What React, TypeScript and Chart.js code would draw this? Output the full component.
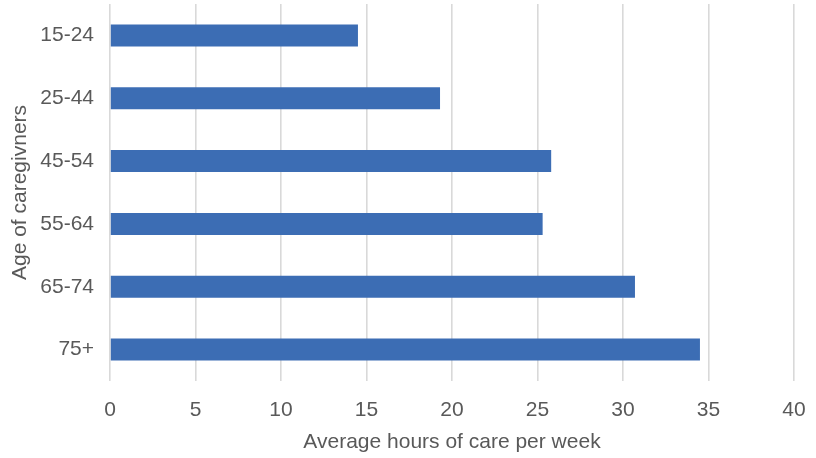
import React, { useEffect, useRef } from "react";
import { Chart, registerables } from "chart.js";

Chart.register(...registerables);

const ageGroups = ["15-24", "25-44", "45-54", "55-64", "65-74", "75+"];
const avgHours = [14.5, 19.3, 25.8, 25.3, 30.7, 34.5];
const xTicks = [0, 5, 10, 15, 20, 25, 30, 35, 40];

const FONT = "'Liberation Sans', Arial, Helvetica, sans-serif";
const TEXT = "#595959";

export default function App() {
  const canvasRef = useRef<HTMLCanvasElement | null>(null);

  useEffect(() => {
    document.body.style.margin = "0";
    const canvas = canvasRef.current;
    if (!canvas) return;
    const chart = new Chart(canvas, {
      type: "bar",
      data: {
        labels: ageGroups,
        datasets: [
          {
            data: avgHours,
            backgroundColor: "#3c6db4",
            borderWidth: 0,
            barPercentage: 1,
            categoryPercentage: 0.35,
          },
        ],
      },
      options: {
        indexAxis: "y",
        animation: false,
        responsive: true,
        maintainAspectRatio: false,
        layout: { padding: { top: 4, right: 22, bottom: 0, left: 0 } },
        plugins: {
          legend: { display: false },
          tooltip: { enabled: false },
        },
        scales: {
          x: {
            min: 0,
            max: 40,
            afterBuildTicks: (scale: any) => {
              scale.ticks = xTicks.map((v) => ({ value: v }));
            },
            afterFit: (scale: any) => {
              scale.height = 77;
              scale.paddingLeft = 0;
              scale.paddingRight = 0;
            },
            grid: {
              color: "#d9d9d9",
              lineWidth: 1.6,
              drawTicks: false,
            },
            border: { display: false },
            ticks: {
              padding: 17,
              color: TEXT,
              font: { family: FONT, size: 21 },
            },
            title: {
              display: true,
              text: "Average hours of care per week",
              color: TEXT,
              font: { family: FONT, size: 21 },
              padding: { top: 0, bottom: 3 },
            },
          },
          y: {
            afterFit: (scale: any) => {
              scale.width = 110;
              scale.paddingTop = 0;
              scale.paddingBottom = 0;
            },
            grid: { display: false, drawTicks: false },
            border: { display: false },
            ticks: {
              padding: 16,
              color: TEXT,
              font: { family: FONT, size: 21 },
            },
            title: {
              display: true,
              text: "Age of caregivners",
              color: TEXT,
              font: { family: FONT, size: 21 },
              padding: { top: 8, bottom: 0 },
            },
          },
        },
      },
    });
    return () => chart.destroy();
  }, []);

  return (
    <div style={{ position: "relative", width: 816, height: 458 }}>
      <canvas ref={canvasRef} />
    </div>
  );
}
